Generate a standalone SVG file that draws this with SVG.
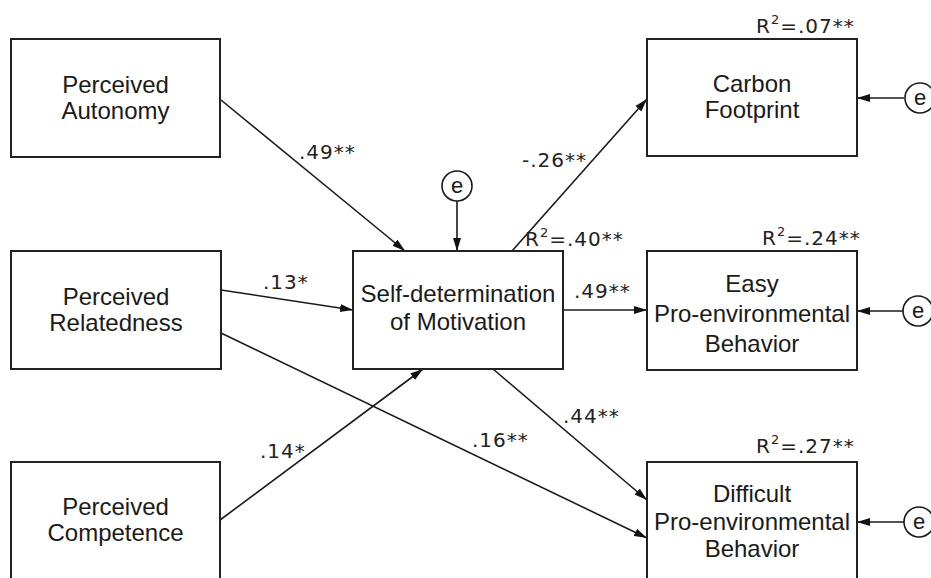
<svg xmlns="http://www.w3.org/2000/svg" width="931" height="578" viewBox="0 0 931 578">
<defs>
<style>
.box{fill:#fff;stroke:#222;stroke-width:2}
.t{font-family:"Liberation Sans",Arial,sans-serif;font-size:24px;fill:#1a1a1a;text-anchor:middle}
.lbl{font-family:"DejaVu Sans",Verdana,sans-serif;font-size:20px;fill:#222;letter-spacing:1px}
.sup{font-size:13px}
.c{fill:none;stroke:#1a1a1a;stroke-width:1.6}
.e{fill:#fff;stroke:#1a1a1a;stroke-width:1.6}
.et{font-family:"Liberation Sans",Arial,sans-serif;font-size:22px;fill:#1a1a1a;text-anchor:middle}
</style>
<marker id="ah" markerUnits="userSpaceOnUse" markerWidth="14" markerHeight="9" refX="13" refY="4.5" orient="auto">
<path d="M0,0.5 L13,4.5 L0,8.5 Z" fill="#111"/>
</marker>
</defs>
<rect width="931" height="578" fill="#fff"/>

<g id="connectors">
<line class="c" x1="221" y1="100" x2="405" y2="251" marker-end="url(#ah)"/>
<line class="c" x1="221" y1="290" x2="353" y2="310" marker-end="url(#ah)"/>
<line class="c" x1="220" y1="520" x2="423" y2="369" marker-end="url(#ah)"/>
<line class="c" x1="221" y1="333" x2="647" y2="538" marker-end="url(#ah)"/>
<line class="c" x1="512" y1="251" x2="647" y2="99" marker-end="url(#ah)"/>
<line class="c" x1="563" y1="310" x2="647" y2="310" marker-end="url(#ah)"/>
<line class="c" x1="493" y1="369" x2="647" y2="500" marker-end="url(#ah)"/>
<line class="c" x1="457" y1="201" x2="457" y2="251" marker-end="url(#ah)"/>
<line class="c" x1="904" y1="98" x2="857" y2="98" marker-end="url(#ah)"/>
<line class="c" x1="903" y1="311" x2="857" y2="311" marker-end="url(#ah)"/>
<line class="c" x1="904" y1="522" x2="857" y2="522" marker-end="url(#ah)"/>
</g>

<g id="labels">
<text class="lbl" x="299" y="159">.49**</text>
<text class="lbl" x="263" y="289">.13*</text>
<text class="lbl" x="260" y="458">.14*</text>
<text class="lbl" x="472" y="447">.16**</text>
<text class="lbl" x="522" y="167">-.26**</text>
<text class="lbl" x="574" y="298">.49**</text>
<text class="lbl" x="563" y="423">.44**</text>
<text class="lbl" x="525" y="246">R<tspan class="sup" dy="-9">2</tspan><tspan dy="9">=.40**</tspan></text>
<text class="lbl" x="756" y="33">R<tspan class="sup" dy="-9">2</tspan><tspan dy="9">=.07**</tspan></text>
<text class="lbl" x="762" y="245">R<tspan class="sup" dy="-9">2</tspan><tspan dy="9">=.24**</tspan></text>
<text class="lbl" x="756" y="453">R<tspan class="sup" dy="-9">2</tspan><tspan dy="9">=.27**</tspan></text>
</g>

<g id="autonomy">
<rect class="box" x="11" y="39" width="209" height="118"/>
<text class="t" x="115.5" y="93">Perceived</text>
<text class="t" x="115.5" y="119">Autonomy</text>
</g>
<g id="relatedness">
<rect class="box" x="11" y="251" width="210" height="118"/>
<text class="t" x="116" y="305">Perceived</text>
<text class="t" x="116" y="331">Relatedness</text>
</g>
<g id="competence">
<rect class="box" x="11" y="462" width="209" height="120"/>
<text class="t" x="115.5" y="515">Perceived</text>
<text class="t" x="115.5" y="541">Competence</text>
</g>
<g id="sdm">
<rect class="box" x="353" y="251" width="210" height="118"/>
<text class="t" x="458" y="302">Self-determination</text>
<text class="t" x="458" y="330">of Motivation</text>
</g>
<g id="carbon">
<rect class="box" x="647" y="39" width="210" height="117"/>
<text class="t" x="752" y="92">Carbon</text>
<text class="t" x="752" y="118">Footprint</text>
</g>
<g id="easy">
<rect class="box" x="647" y="251" width="210" height="119"/>
<text class="t" x="752" y="292">Easy</text>
<text class="t" x="752" y="322">Pro-environmental</text>
<text class="t" x="752" y="352">Behavior</text>
</g>
<g id="difficult">
<rect class="box" x="647" y="462" width="210" height="120"/>
<text class="t" x="752" y="502">Difficult</text>
<text class="t" x="752" y="530">Pro-environmental</text>
<text class="t" x="752" y="557">Behavior</text>
</g>

<g id="e-sdm">
<circle class="e" cx="457" cy="186" r="15"/>
<text class="et" x="457" y="193">e</text>
</g>
<g id="e-carbon">
<circle class="e" cx="920" cy="98" r="15"/>
<text class="et" x="920" y="105">e</text>
</g>
<g id="e-easy">
<circle class="e" cx="918" cy="311" r="15"/>
<text class="et" x="918" y="318">e</text>
</g>
<g id="e-difficult">
<circle class="e" cx="919" cy="522" r="15"/>
<text class="et" x="919" y="529">e</text>
</g>
</svg>
